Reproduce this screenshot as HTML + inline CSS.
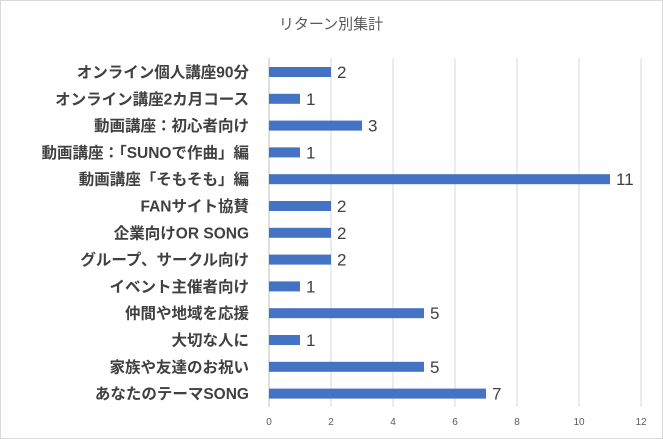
<!DOCTYPE html>
<html><head><meta charset="utf-8"><style>
html,body{margin:0;padding:0;background:#fff}
svg{display:block}
text{font-family:"Liberation Sans","Noto Sans CJK JP",sans-serif}
.l{font-size:15.5px;font-weight:bold;fill:#404040;text-anchor:end}
.v{font-size:17px;fill:#404040}
</style></head><body>
<svg width="663" height="439" viewBox="0 0 663 439" xmlns="http://www.w3.org/2000/svg">
<rect x="0.5" y="0.5" width="662" height="438" fill="#fff" stroke="#d9d9d9"/>
<text x="331" y="29" font-size="15" fill="#595959" text-anchor="middle">リターン別集計</text>
<g stroke="#d9d9d9" stroke-width="1">
<line x1="331" y1="58" x2="331" y2="407"/><line x1="393" y1="58" x2="393" y2="407"/>
<line x1="455" y1="58" x2="455" y2="407"/><line x1="517" y1="58" x2="517" y2="407"/>
<line x1="579" y1="58" x2="579" y2="407"/><line x1="641" y1="58" x2="641" y2="407"/>
<line x1="269" y1="58" x2="269" y2="407" stroke="#bfbfbf"/>
</g>
<g font-size="10" fill="#595959" text-anchor="middle">
<text x="269" y="425">0</text><text x="331" y="425">2</text><text x="393" y="425">4</text><text x="455" y="425">6</text><text x="517" y="425">8</text><text x="579" y="425">10</text><text x="641" y="425">12</text>
</g>
<g fill="#4472c4">
<rect x="269" y="67" width="62" height="10"/>
<rect x="269" y="93.8" width="31" height="10"/>
<rect x="269" y="120.6" width="93" height="10"/>
<rect x="269" y="147.4" width="31" height="10"/>
<rect x="269" y="174.2" width="341" height="10"/>
<rect x="269" y="201" width="62" height="10"/>
<rect x="269" y="227.8" width="62" height="10"/>
<rect x="269" y="254.6" width="62" height="10"/>
<rect x="269" y="281.4" width="31" height="10"/>
<rect x="269" y="308.2" width="155" height="10"/>
<rect x="269" y="335" width="31" height="10"/>
<rect x="269" y="361.8" width="155" height="10"/>
<rect x="269" y="388.6" width="217" height="10"/>
</g>
<text class="l" x="249" y="77.5">オンライン個人講座90分</text>
<text class="l" x="249" y="104.3">オンライン講座2カ月コース</text>
<text class="l" x="249" y="131.1">動画講座：初心者向け</text>
<text class="l" x="249" y="157.9">動画講座：「SUNOで作曲」編</text>
<text class="l" x="249" y="184.7">動画講座「そもそも」編</text>
<text class="l" x="249" y="211.5">FANサイト協賛</text>
<text class="l" x="249" y="238.3">企業向けOR SONG</text>
<text class="l" x="249" y="265.1">グループ、サークル向け</text>
<text class="l" x="249" y="291.9">イベント主催者向け</text>
<text class="l" x="249" y="318.7">仲間や地域を応援</text>
<text class="l" x="249" y="345.5">大切な人に</text>
<text class="l" x="249" y="372.3">家族や友達のお祝い</text>
<text class="l" x="249" y="399.1">あなたのテーマSONG</text>
<text class="v" x="337" y="78">2</text>
<text class="v" x="306" y="104.8">1</text>
<text class="v" x="368" y="131.6">3</text>
<text class="v" x="306" y="158.4">1</text>
<text class="v" x="616" y="185.2">11</text>
<text class="v" x="337" y="212">2</text>
<text class="v" x="337" y="238.8">2</text>
<text class="v" x="337" y="265.6">2</text>
<text class="v" x="306" y="292.4">1</text>
<text class="v" x="430" y="319.2">5</text>
<text class="v" x="306" y="346">1</text>
<text class="v" x="430" y="372.8">5</text>
<text class="v" x="492" y="399.6">7</text>
</svg>
</body></html>
